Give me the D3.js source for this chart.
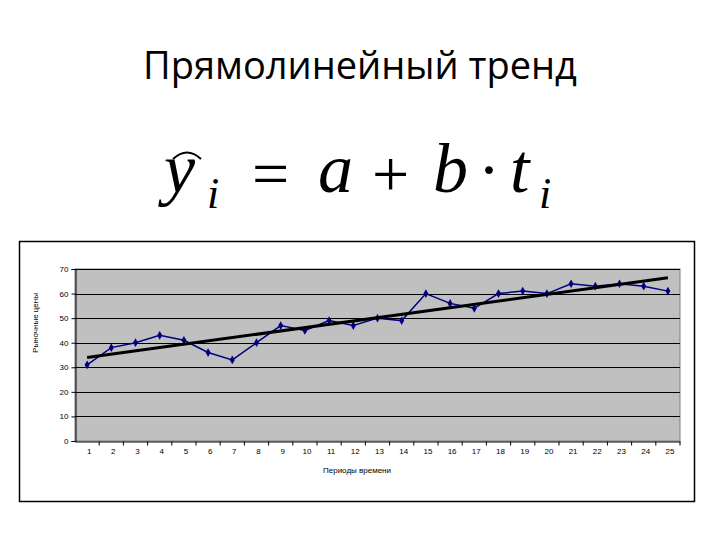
<!DOCTYPE html>
<html>
<head>
<meta charset="utf-8">
<script src="https://cdn.jsdelivr.net/npm/d3@7/dist/d3.min.js"></script>
<style>
  body { margin: 0; background: #fff; }
  svg { display: block; }
</style>
</head>
<body>
<svg id="chart" width="720" height="540"></svg>
<script>
// data
var periods = d3.range(1, 26);
var prices = [31, 38, 40, 43, 41, 36, 33, 40, 47, 45, 49, 47, 50, 49, 60, 56, 54, 60, 61, 60, 64, 63, 64, 63, 61];
var yTicks = [0, 10, 20, 30, 40, 50, 60, 70];
var titleText = "Прямолинейный тренд";
var yLabel = "Рыночные цены";
var xLabel = "Периоды времени";

var svg = d3.select("#chart");

// title
svg.append("text")
  .attr("x", 360)
  .attr("y", 79)
  .attr("text-anchor", "middle")
  .style("font-family", "Open Sans, sans-serif")
  .style("font-size", "38px")
  .text(titleText);

// formula  y^_i = a + b · t_i
var f = svg.append("g").style("font-family", "Liberation Serif, serif");
var glyphs = [
  { t: "y", x: 164, y: 192, s: 70 },
  { t: "i", x: 207, y: 208, s: 44 },
  { t: "=", x: 252, y: 196, s: 66, n: true },
  { t: "a", x: 318, y: 192, s: 70 },
  { t: "+", x: 372, y: 196, s: 66, n: true },
  { t: "b", x: 433, y: 192, s: 70 },
  { t: "·", x: 478, y: 192, s: 66, n: true },
  { t: "t", x: 510, y: 192, s: 70 },
  { t: "i", x: 539, y: 208, s: 44 }
];
f.selectAll("text").data(glyphs).enter().append("text")
  .attr("x", function (d) { return d.x; })
  .attr("y", function (d) { return d.y; })
  .style("font-size", function (d) { return d.s + "px"; })
  .style("font-style", function (d) { return d.n ? "normal" : "italic"; })
  .text(function (d) { return d.t; });
// hat over y
f.append("path")
  .attr("d", "M173,159 Q187,146 201,159")
  .attr("fill", "none")
  .attr("stroke", "#000")
  .attr("stroke-width", 2);

// chart frame
svg.append("rect")
  .attr("x", 19.5).attr("y", 241.5)
  .attr("width", 675).attr("height", 260)
  .attr("fill", "#fff")
  .attr("stroke", "#000")
  .attr("stroke-width", 1.5);

var plotLeft = 75, plotRight = 680, plotTop = 269, plotBottom = 441;

var x = d3.scaleBand().domain(periods).range([plotLeft, plotRight]);
var y = d3.scaleLinear().domain([0, 70]).range([plotBottom, plotTop]);

// plot area
svg.append("rect")
  .attr("x", plotLeft).attr("y", plotTop)
  .attr("width", plotRight - plotLeft).attr("height", plotBottom - plotTop)
  .attr("fill", "#c0c0c0")
  .attr("stroke", "#808080");

// gridlines
svg.append("g").selectAll("line").data(yTicks.slice(1)).enter().append("line")
  .attr("x1", plotLeft).attr("x2", plotRight)
  .attr("y1", function (d) { return Math.round(y(d)) + 0.5; })
  .attr("y2", function (d) { return Math.round(y(d)) + 0.5; })
  .attr("stroke", "#000");

// y axis
var yAxis = svg.append("g")
  .attr("transform", "translate(" + (plotLeft + 0.5) + ",0)")
  .call(d3.axisLeft(y).tickValues(yTicks).tickSize(4).tickPadding(3));

// x axis, ticks between categories
var xAxis = svg.append("g")
  .attr("transform", "translate(0," + (plotBottom + 0.5) + ")")
  .call(d3.axisBottom(x).tickSize(0).tickPadding(7));
xAxis.selectAll(".tick text").attr("dx", 2);
xAxis.append("g").selectAll("line")
  .data(periods)
  .enter().append("line")
  .attr("x1", function (d) { return x(d) + x.bandwidth(); })
  .attr("x2", function (d) { return x(d) + x.bandwidth(); })
  .attr("y1", 0).attr("y2", 4)
  .attr("stroke", "#000");

[yAxis, xAxis].forEach(function (a) {
  a.select(".domain").attr("stroke", "#000");
  a.selectAll("text")
    .attr("fill", "#000")
    .style("font-family", "Liberation Sans, Arial, sans-serif")
    .style("font-size", "8px");
});

// axis titles
svg.append("text")
  .attr("transform", "translate(38,323) rotate(-90)")
  .attr("text-anchor", "middle")
  .style("font-family", "Liberation Sans, Arial, sans-serif")
  .style("font-size", "8px")
  .text(yLabel);
svg.append("text")
  .attr("x", 357).attr("y", 473)
  .attr("text-anchor", "middle")
  .style("font-family", "Liberation Sans, Arial, sans-serif")
  .style("font-size", "8px")
  .text(xLabel);

var cx = function (d, i) { return x(periods[i]) + x.bandwidth() / 2; };

// series line
svg.append("path")
  .datum(prices)
  .attr("fill", "none")
  .attr("stroke", "#000080")
  .attr("stroke-width", 1.5)
  .attr("d", d3.line().x(cx).y(function (d) { return y(d); }));

svg.append("g").selectAll("path").data(prices).enter().append("path")
  .attr("d", d3.symbol().type(d3.symbolDiamond).size(22))
  .attr("transform", function (d, i) { return "translate(" + cx(d, i) + "," + y(d) + ")"; })
  .attr("fill", "#000080");

// linear trend by least squares
var n = prices.length;
var mt = d3.mean(periods), my = d3.mean(prices);
var b = d3.sum(periods, function (t, i) { return (t - mt) * (prices[i] - my); }) /
        d3.sum(periods, function (t) { return (t - mt) * (t - mt); });
var a = my - b * mt;
var trend = [periods[0], periods[n - 1]];
svg.append("line")
  .attr("x1", x(trend[0]) + x.bandwidth() / 2)
  .attr("y1", y(a + b * trend[0]))
  .attr("x2", x(trend[1]) + x.bandwidth() / 2)
  .attr("y2", y(a + b * trend[1]))
  .attr("stroke", "#000")
  .attr("stroke-width", 3);
</script>
</body>
</html>
